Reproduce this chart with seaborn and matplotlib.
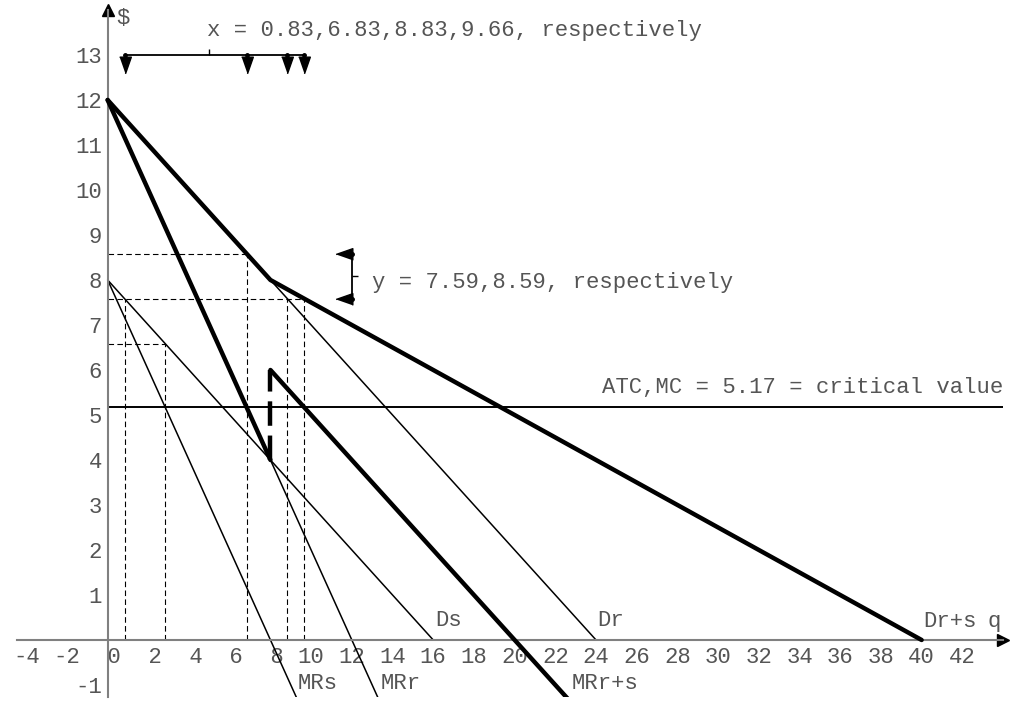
import matplotlib
matplotlib.use('Agg')
import matplotlib.pyplot as plt
import seaborn as sns

# demand / marginal revenue curves, (q, price) end points
ds_q = [0, 16]
ds_p = [8, 0]
dr_q = [0, 24]
dr_p = [12, 0]
mrs_q = [0, 9.5]
mrs_p = [8, -1.5]
mrr_q = [0, 13.5]
mrr_p = [12, -1.5]
drs_q = [0, 8, 40]
drs_p = [12, 8, 0]
mrrs_q1 = [0, 8]
mrrs_p1 = [12, 4]
gap_q = [8, 8]
gap_p = [4, 6]
mrrs_q2 = [8, 23]
mrrs_p2 = [6, -1.5]

critical = 5.17

# dashed guide lines
guide_x = [0.83, 2.83, 6.83, 8.83, 9.66]
guide_x_top = [7.585, 6.585, 8.585, 7.585, 7.585]
guide_y = [8.585, 7.585, 6.585]
guide_y_end = [6.83, 9.66, 2.83]

# values pointed at by the two brackets
mark_x = [0.83, 6.83, 8.83, 9.66]
mark_y = [7.585, 8.585]

xticks = list(range(-4, 43, 2))
yticks = [-1] + list(range(1, 14))

sns.set_theme(style='white')
plt.rcParams['font.family'] = ['Liberation Mono', 'DejaVu Sans Mono']

txt = '#555555'
axc = '#808080'
fs = 16

fig = plt.figure(figsize=(10.24, 7.09), dpi=100)
ax = fig.add_axes([0, 12 / 709, 1, 697 / 709])
ax.set_xlim(-5.29, 45.03)
ax.set_ylim(-1.267, 14.222)

for s in ['top', 'right']:
    ax.spines[s].set_visible(False)
ax.spines['left'].set_position(('data', 0))
ax.spines['bottom'].set_position(('data', 0))
ax.spines['left'].set_bounds(-1.267, 14.0)
ax.spines['bottom'].set_bounds(-4.45, 44.0)
for s in ['left', 'bottom']:
    ax.spines[s].set_color(axc)
    ax.spines[s].set_linewidth(1.5)

ax.set_xticks(xticks, [f'{v:2d}' for v in xticks])
ax.set_yticks(yticks, [str(v) for v in yticks])
ax.tick_params(axis='x', direction='inout', length=6, width=1, color=axc,
               pad=2, labelsize=fs, labelcolor=txt)
ax.tick_params(axis='y', direction='out', length=3, width=1, color=axc,
               pad=1, labelsize=fs, labelcolor=txt)
ax.set_xlabel('')
ax.set_ylabel('')

# axis arrow heads
ax.plot([0], [14.0], marker='^', ms=8, color='black', clip_on=False)
ax.plot([44.0], [0], marker='>', ms=8, color='black', clip_on=False)

# dashed guides
ax.vlines(guide_x, 0, guide_x_top, colors='black', linestyles=(0, (5, 3)), lw=0.8)
ax.hlines(guide_y, 0, guide_y_end, colors='black', linestyles=(0, (5, 3)), lw=0.8)

# critical value
ax.hlines(critical, 0, 44.0, colors='black', lw=1.4)

# thin curves
for q, p in [(ds_q, ds_p), (dr_q, dr_p), (mrs_q, mrs_p), (mrr_q, mrr_p)]:
    sns.lineplot(x=q, y=p, ax=ax, color='black', linewidth=1.1,
                 estimator=None, sort=False)

# thick curves
for q, p in [(drs_q, drs_p), (mrrs_q1, mrrs_p1), (mrrs_q2, mrrs_p2)]:
    sns.lineplot(x=q, y=p, ax=ax, color='black', linewidth=3.2,
                 estimator=None, sort=False, zorder=5)
sns.lineplot(x=gap_q, y=gap_p, ax=ax, color='black', linewidth=3.2,
             estimator=None, sort=False, zorder=5, dashes=False)
ax.lines[-1].set_linestyle((0, (5.5, 2.2)))

# top bracket for the x values
arrow_v = [(-0.7, 1), (0.7, 1), (0, -1)]
arrow_l = [(1, -0.7), (1, 0.7), (-1, 0)]
ax.hlines(13, mark_x[0], mark_x[-1], colors='black', lw=1.3)
ax.vlines(5.0, 13, 13.13, colors='black', lw=1.0)
ax.plot(mark_x, [13] * len(mark_x), 'o', ms=2.5, color='black')
ax.plot(mark_x, [12.78] * len(mark_x), linestyle='none', marker=arrow_v,
        ms=12, color='black')
ax.text(4.86, 13.55, 'x = 0.83,6.83,8.83,9.66, respectively', fontsize=fs,
        color=txt, ha='left', va='center')

# side bracket for the y values
ax.vlines(12.0, mark_y[0], mark_y[1], colors='black', lw=1.3)
ax.hlines(8.09, 12.0, 12.3, colors='black', lw=1.0)
ax.plot([12.0] * 2, mark_y, 'o', ms=2.5, color='black')
ax.plot([11.61] * 2, mark_y, linestyle='none', marker=arrow_l, ms=12,
        color='black')
ax.text(12.97, 7.95, 'y = 7.59,8.59, respectively', fontsize=fs, color=txt,
        ha='left', va='center')

ax.text(44.0, 5.62, 'ATC,MC = 5.17 = critical value', fontsize=fs, color=txt,
        ha='right', va='center')

# curve and axis labels
ax.text(0.44, 13.8, '$', fontsize=fs, color=txt, ha='left', va='center')
ax.text(43.26, 0.42, 'q', fontsize=fs, color=txt, ha='left', va='center')
ax.text(16.09, 0.43, 'Ds', fontsize=fs, color=txt, ha='left', va='center')
ax.text(24.06, 0.43, 'Dr', fontsize=fs, color=txt, ha='left', va='center')
ax.text(40.08, 0.42, 'Dr+s', fontsize=fs, color=txt, ha='left', va='center')
ax.text(9.34, -0.97, 'MRs', fontsize=fs, color=txt, ha='left', va='center')
ax.text(13.4, -0.97, 'MRr', fontsize=fs, color=txt, ha='left', va='center')
ax.text(22.8, -0.97, 'MRr+s', fontsize=fs, color=txt, ha='left', va='center')

fig.savefig('out.png', dpi=100)
